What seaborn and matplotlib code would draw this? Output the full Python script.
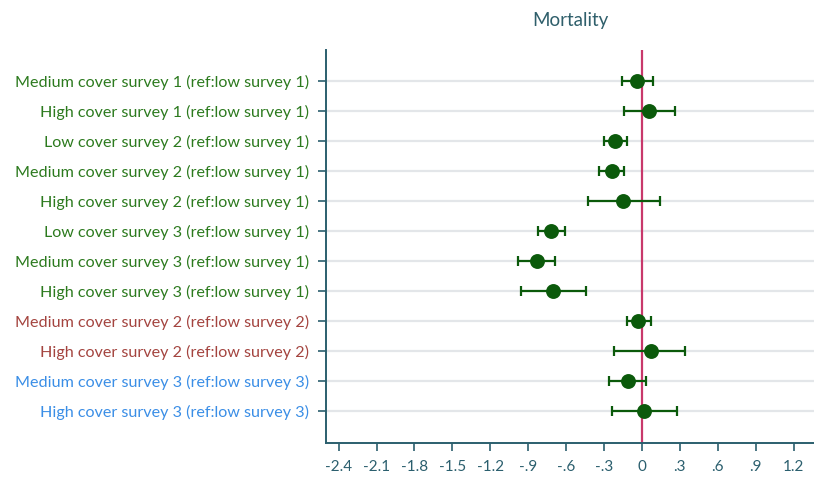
import matplotlib
matplotlib.use("Agg")
import matplotlib.pyplot as plt
import seaborn as sns
import pandas as pd

# Contrasts and estimated effects on mortality (point estimate with 95% CI)
labels = [
    "Medium cover survey 1 (ref:low survey 1)",
    "High cover survey 1 (ref:low survey 1)",
    "Low cover survey 2 (ref:low survey 1)",
    "Medium cover survey 2 (ref:low survey 1)",
    "High cover survey 2 (ref:low survey 1)",
    "Low cover survey 3 (ref:low survey 1)",
    "Medium cover survey 3 (ref:low survey 1)",
    "High cover survey 3 (ref:low survey 1)",
    "Medium cover survey 2 (ref:low survey 2)",
    "High cover survey 2 (ref:low survey 2)",
    "Medium cover survey 3 (ref:low survey 3)",
    "High cover survey 3 (ref:low survey 3)",
]
reference = ["s1"] * 8 + ["s2"] * 2 + ["s3"] * 2
estimate = [-0.04, 0.06, -0.21, -0.24, -0.15, -0.72, -0.83, -0.70, -0.03, 0.07, -0.11, 0.02]
ci_low = [-0.16, -0.14, -0.30, -0.34, -0.43, -0.82, -0.98, -0.96, -0.12, -0.22, -0.26, -0.24]
ci_high = [0.09, 0.26, -0.12, -0.14, 0.14, -0.61, -0.69, -0.44, 0.07, 0.34, 0.03, 0.28]

xticks = [-2.4, -2.1, -1.8, -1.5, -1.2, -0.9, -0.6, -0.3, 0, 0.3, 0.6, 0.9, 1.2]
xtick_labels = ["-2.4", "-2.1", "-1.8", "-1.5", "-1.2", "-.9", "-.6", "-.3", "0", ".3", ".6", ".9", "1.2"]

label_colors = {"s1": "#2c7a1e", "s2": "#a4443f", "s3": "#3a8ee6"}
mark_color = "#0b5a0b"
axis_color = "#2b5f6e"

df = pd.DataFrame({"label": labels, "ref": reference, "est": estimate,
                   "lo": ci_low, "hi": ci_high})
df["pos"] = range(1, len(df) + 1)

sns.set_theme(style="white")
plt.rcParams["font.family"] = ["Lato", "DejaVu Sans"]

fig = plt.figure(figsize=(8.14, 4.79), dpi=100)
ax = fig.add_axes([326 / 814, 1 - 443 / 479, 1 - 326 / 814, (443 - 50) / 479])

# light horizontal guide for every row
for p in df["pos"]:
    ax.axhline(p, color="#e3e6e9", lw=1.6, zorder=0)

# reference line at zero
ax.axvline(0, color="#c8386b", lw=1.6, zorder=1)

# confidence intervals
ax.errorbar(df["est"], df["pos"],
            xerr=[df["est"] - df["lo"], df["hi"] - df["est"]],
            fmt="none", ecolor=mark_color, elinewidth=1.6,
            capsize=3.8, capthick=1.6, zorder=2)

# point estimates
sns.scatterplot(data=df, x="est", y="pos", ax=ax, color=mark_color,
                s=115, edgecolor=mark_color, linewidth=0, zorder=3, legend=False)

ax.set_xlim(-2.5, 1.362)
ax.set_ylim(13.07, -0.03)
ax.set_xticks(xticks)
ax.set_xticklabels(xtick_labels, fontsize=11, color=axis_color)
ax.set_yticks(df["pos"])
ax.set_yticklabels(df["label"], fontsize=11.6)
for t, r in zip(ax.get_yticklabels(), df["ref"]):
    t.set_color(label_colors[r])

ax.tick_params(axis="both", which="major", length=6, width=1.2,
               color=axis_color, direction="out", bottom=True, left=True)
ax.tick_params(axis="y", pad=6)
ax.tick_params(axis="x", pad=6)

for side in ["top", "right"]:
    ax.spines[side].set_visible(False)
for side in ["left", "bottom"]:
    ax.spines[side].set_color(axis_color)
    ax.spines[side].set_linewidth(1.4)

ax.set_xlabel("")
ax.set_ylabel("")
ax.set_title("Mortality", fontsize=13.5, color="#2f5f6b", pad=17)

fig.savefig("out.png", dpi=100)
